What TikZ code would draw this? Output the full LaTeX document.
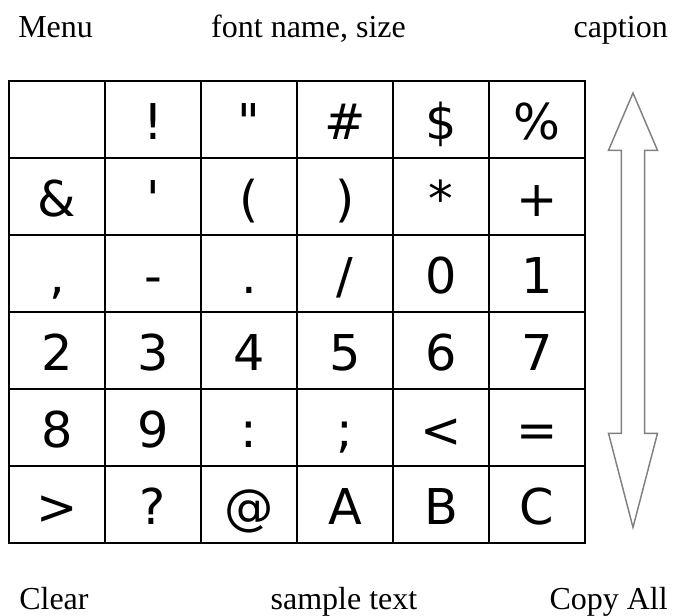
\documentclass[tikz,border=0pt]{standalone}
\usepackage{fontspec}
\setmainfont{Liberation Serif}
\newfontfamily\cellfont{DejaVu Sans}
\tikzset{
  cellbox/.style={draw=black, line width=1.2pt, minimum width=72pt, minimum height=57.75pt,
    inner sep=0pt, text height=30pt, text depth=0pt, font=\cellfont\fontsize{37}{40}\selectfont},
  label/.style={font=\fontsize{24}{28}\selectfont, inner sep=0pt},
  scrollarrow/.style={draw=black!50, line width=1.1pt, line join=miter}
}
\newcommand\gcell[3]{\node[cellbox] (c#1#2) at ({9+96*(#2-0.5)},{81+77*(#1-0.5)}) {#3};}
\begin{document}
\begin{tikzpicture}[x=0.75pt,y=-0.75pt]
\useasboundingbox (0,0) rectangle (675,615);
% labels
\node[label, anchor=base west] (menu) at (18,37) {Menu};
\node[label, anchor=base] (fontname) at (308.5,37) {font name, size};
\node[label, anchor=base east] (caption) at (668,37) {caption};
\node[label, anchor=base west] (clear) at (19,609) {Clear};
\node[label, anchor=base] (sample) at (344,609) {sample text};
\node[label, anchor=base east] (copyall) at (668,609) {Copy All};
% grid
\gcell{1}{1}{}
\gcell{1}{2}{!}
\gcell{1}{3}{"}
\gcell{1}{4}{\#}
\gcell{1}{5}{\$}
\gcell{1}{6}{\%}
\gcell{2}{1}{\&}
\gcell{2}{2}{'}
\gcell{2}{3}{(}
\gcell{2}{4}{)}
\gcell{2}{5}{*}
\gcell{2}{6}{+}
\gcell{3}{1}{,}
\gcell{3}{2}{-}
\gcell{3}{3}{.}
\gcell{3}{4}{/}
\gcell{3}{5}{0}
\gcell{3}{6}{1}
\gcell{4}{1}{2}
\gcell{4}{2}{3}
\gcell{4}{3}{4}
\gcell{4}{4}{5}
\gcell{4}{5}{6}
\gcell{4}{6}{7}
\gcell{5}{1}{8}
\gcell{5}{2}{9}
\gcell{5}{3}{:}
\gcell{5}{4}{;}
\gcell{5}{5}{<}
\gcell{5}{6}{=}
\gcell{6}{1}{>}
\gcell{6}{2}{?}
\gcell{6}{3}{@}
\gcell{6}{4}{A}
\gcell{6}{5}{B}
\gcell{6}{6}{C}
% scroll arrow
\draw[scrollarrow] (633,93) -- (657.5,150.3) -- (644.7,150.3) -- (644.7,433.3) -- (657.5,433.3)
  -- (633,527.4) -- (608.5,433.3) -- (621.3,433.3) -- (621.3,150.3) -- (608.5,150.3) -- cycle;
\end{tikzpicture}
\end{document}
